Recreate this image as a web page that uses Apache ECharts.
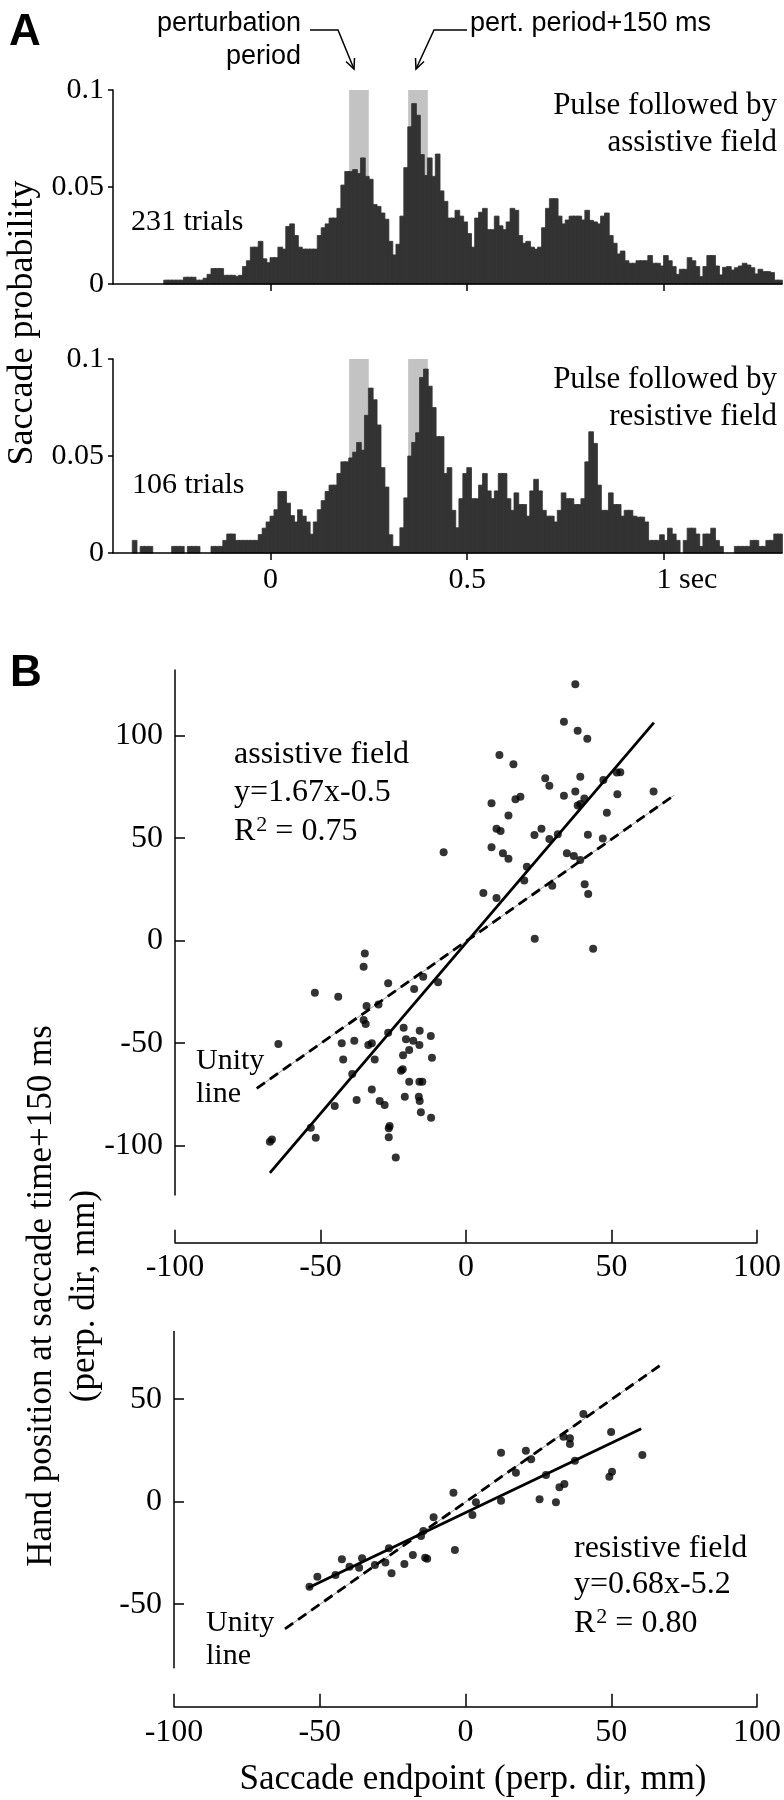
<!DOCTYPE html>
<html><head><meta charset="utf-8">
<script src="https://cdn.jsdelivr.net/npm/echarts@6/dist/echarts.min.js"></script>
<style>html,body{margin:0;padding:0;background:#fff}#c{width:784px;height:1800px}</style>
</head><body><div id="c"></div>
<script>
// ---------- Panel A: saccade probability histograms (10 ms bins from -0.4 s) ----------
const BIN_START = -0.4;
const BIN_WIDTH = 0.01;
const assistiveHist = [
  0,0,0,0,0,0,0,0,0,0,
  0,0,0,0.002,0.002,0.002,0.002,0.002,0.0035,0.0035,
  0.0035,0.002,0.002,0.003,0.005,0.008,0.008,0.008,0.0045,0.0045,
  0.0045,0.004,0.0045,0.009,0.012,0.019,0.019,0.022,0.013,0.011,
  0.0136,0.0136,0.019,0.018,0.0297,0.031,0.025,0.019,0.018,0.018,
  0.018,0.018,0.025,0.029,0.031,0.034,0.034,0.039,0.051,0.058,
  0.058,0.059,0.057,0.065,0.0555,0.054,0.041,0.040,0.0366,0.0334,
  0.022,0.015,0.0205,0.035,0.060,0.081,0.093,0.087,0.0667,0.056,
  0.065,0.0555,0.067,0.048,0.0426,0.034,0.034,0.038,0.035,0.032,
  0.026,0.019,0.034,0.037,0.039,0.028,0.028,0.035,0.030,0.028,
  0.032,0.039,0.038,0.025,0.021,0.022,0.019,0.018,0.019,0.029,
  0.039,0.044,0.044,0.035,0.031,0.033,0.035,0.035,0.035,0.033,
  0.038,0.0328,0.032,0.031,0.035,0.0366,0.025,0.021,0.0155,0.017,
  0.012,0.0107,0.0107,0.012,0.012,0.012,0.0147,0.0107,0.0107,0.0093,
  0.0147,0.012,0.009,0.005,0.0076,0.0076,0.0136,0.012,0.009,0.0038,
  0.009,0.0147,0.0147,0.0093,0.0047,0.0086,0.009,0.0072,0.0084,0.0093,
  0.0107,0.0098,0.0084,0.0052,0.0076,0.0064,0.0064,0.0059,0.002,0.002
];
const resistiveHist = [
  0,0,0,0,0,0.0065,0,0.0034,0.0034,0.0034,
  0,0,0,0,0,0.0034,0.0034,0.0034,0,0.0034,
  0.0034,0.0034,0,0,0,0.0034,0.0034,0.0034,0.0065,0.0098,
  0.0098,0.0065,0.0065,0.0065,0.0065,0.0065,0.0065,0.0095,0.0128,0.016,
  0.019,0.0223,0.0317,0.0317,0.0257,0.0193,0.016,0.0223,0.019,0.016,
  0.0097,0.016,0.0223,0.027,0.0317,0.035,0.035,0.041,0.047,0.047,
  0.049,0.052,0.057,0.053,0.071,0.085,0.079,0.066,0.044,0.034,
  0.0094,0.0034,0.0034,0.013,0.0284,0.050,0.057,0.062,0.0905,0.0948,
  0.086,0.075,0.060,0.060,0.041,0.044,0.022,0.013,0.028,0.041,
  0.044,0.028,0.028,0.035,0.041,0.032,0.028,0.032,0.041,0.041,
  0.028,0.022,0.031,0.025,0.025,0.019,0.032,0.038,0.032,0.022,
  0.019,0.019,0.016,0.022,0.031,0.028,0.028,0.025,0.025,0.028,
  0.047,0.0625,0.0565,0.035,0.022,0.022,0.031,0.025,0.025,0.019,
  0.022,0.022,0.019,0.0185,0.0185,0.016,0.0065,0.0065,0.0065,0.0094,
  0.0065,0.0128,0.0098,0.0065,0,0.0065,0.0128,0.0128,0.0098,0.0034,
  0.0098,0.0098,0.0128,0.0065,0.0034,0,0,0,0.0034,0.0034,
  0.0034,0.0034,0.0065,0.0065,0.0034,0.0034,0.0065,0.0065,0.0098,0.0098
];
const perturbWindows = [[0.2, 0.25], [0.35, 0.40]];
const histTimeTicks = [0, 0.5, 1];
const histProbTicks = [0, 0.05, 0.1];

// ---------- Panel B: scatter (saccade endpoint vs hand position) ----------
const assistX = [37.1,33.2,37.9,41.2,11.1,15.9,26.8,28.2,38.8,46.7,51.3,52.5,63.9,51.5,33.2,37.1,40.2,38.8,37.9,8.4,
  18.3,16.6,14.2,10.1,11.5,23.1,25.5,28.2,31.1,41.4,47.9,46.5,8.4,12.3,14.2,34.2,36.6,38.8,-8.0,20.5,
  19.6,29.2,40.3,41.5,5.6,10.1,23.2,43.2,-35.0,-35.4,-27.0,-15.0,-9.9,-52.1,-44.1,-18.1,-34.4,-30.3,-35.4,-34.7,
  -21.7,-16.2,-12.4,-27.0,-64.6,-42.9,-38.6,-33.8,-32.6,-20.9,-18.4,-16.3,-19.8,-21.9,-42.4,-31.6,-12.0,-39.3,-22.0,-22.6,
  -19.8,-16.3,-15.3,-32.6,-16.5,-21.3,-16.2,-29.9,-28.2,-37.8,-45.3,-15.8,-12.3,-26.5,-26.8,-26.8,-24.4,-53.5,-51.8,-67.5,-66.8];
const assistY = [125.1,106.8,102.4,98.5,90.6,86.0,79.2,75.5,80.0,78.4,82.0,82.1,72.7,71.4,70.7,72.7,69.3,66.7,65.9,67.0,
  70.2,69.0,61.0,54.6,53.5,51.6,54.6,49.6,51.9,51.7,62.4,49.8,45.6,42.6,40.0,42.6,41.3,39.3,43.1,36.1,
  29.3,26.8,27.5,22.8,23.3,20.8,1.0,-3.9,-6.2,-12.7,-20.8,-17.6,-20.3,-25.4,-27.3,-23.6,-31.9,-31.1,-38.7,-40.6,
  -42.4,-43.9,-46.5,-44.9,-50.4,-50.0,-48.8,-50.9,-50.0,-48.1,-48.8,-50.9,-53.3,-55.8,-57.9,-57.9,-57.1,-65.0,-62.7,-63.4,
  -68.8,-68.8,-68.8,-72.5,-76.1,-76.1,-78.2,-78.2,-80.1,-77.7,-80.6,-83.7,-86.3,-90.4,-91.5,-95.9,-105.7,-91.2,-96.1,-98.0,-96.9];
const resistX = [40.2,49.7,33.4,35.6,35.6,12.0,20.5,22.3,37.3,60.4,17.1,27.4,50.0,49.1,33.7,32.0,-4.3,12.0,25.2,30.8,
  3.4,2.2,-11.1,-14.6,-15.4,-3.8,-26.4,-18.2,-21.1,-14.0,-13.3,-27.6,-31.2,-35.6,-36.6,-39.9,-42.5,-44.7,-50.9,-25.5,-53.6];
const resistY = [42.8,34.0,31.7,31.0,28.1,23.9,24.9,20.7,20.0,22.8,14.1,13.0,14.6,12.2,8.6,7.0,4.4,0.5,1.2,-0.3,
  -0.3,-6.5,-7.6,-14.3,-16.7,-23.6,-22.7,-26.0,-30.4,-27.3,-27.8,-29.6,-30.9,-27.6,-32.2,-31.7,-28.1,-35.8,-36.6,-34.9,-41.5];
const assistFit = {slope: 1.67, intercept: -0.5, xRange: [-67.5, 64]};
const resistFit = {slope: 0.68, intercept: -5.2, xRange: [-54, 60]};
const assistUnityRange = [-72, 71];
const resistUnityRange = [-62, 66.3];
const assistYTicks = [-100, -50, 0, 50, 100];
const resistYTicks = [-50, 0, 50];

// ---------- build ----------
const SERIF = 'Liberation Serif';
const SANS = 'Liberation Sans';
const BAR_COLOR = '#333333';
const binData = arr => arr.map((v, i) => [Math.round((BIN_START + i * BIN_WIDTH) * 1000) / 1000, v]);
const zip = (xs, ys) => xs.map((x, i) => [x, ys[i]]);
const fitLine = f => f.xRange.map(x => [x, f.slope * x + f.intercept]);
const unityLine = r => r.map(x => [x, x]);

function barItem(params, api) {
  const t = api.value(0), v = api.value(1);
  if (!v) return null;
  const p0 = api.coord([t, v]);
  const p1 = api.coord([t + BIN_WIDTH, 0]);
  return {type: 'rect', shape: {x: p0[0] - 0.4, y: p0[1], width: p1[0] - p0[0] + 0.8, height: p1[1] - p0[1]},
    style: {fill: BAR_COLOR, stroke: BAR_COLOR, lineWidth: 0.8}};
}
function bandItem(params, api) {
  const p0 = api.coord([api.value(0), histProbTicks[2]]);
  const p1 = api.coord([api.value(1), 0]);
  return {type: 'rect', shape: {x: p0[0], y: p0[1], width: p1[0] - p0[0], height: p1[1] - p0[1]},
    style: {fill: '#c3c3c3'}};
}

const axLine = {show: true, onZero: false, lineStyle: {color: '#000', width: 1.5}};
function histX(idx, labels) {
  return {gridIndex: idx, type: 'value', min: -0.4, max: 1.3,
    axisLine: axLine,
    axisTick: {show: true, customValues: histTimeTicks, length: 7, lineStyle: {color: '#000', width: 1.5}},
    axisLabel: labels ? {show: true, customValues: histTimeTicks, fontFamily: SERIF, fontSize: 30, color: '#000', margin: 12,
      formatter: v => v === 1 ? '{pad|}1 sec' : String(v), rich: {pad: {width: 46}}} : {show: false},
    splitLine: {show: false}, z: 5};
}
function histY(idx) {
  return {gridIndex: idx, type: 'value', min: 0, max: 0.1, interval: 0.05,
    axisLine: axLine,
    axisTick: {show: true, length: 5, lineStyle: {color: '#000', width: 1.5}},
    axisLabel: {fontFamily: SERIF, fontSize: 30, color: '#000', margin: 9},
    splitLine: {show: false}, z: 5};
}
function scatterY(idx, min, max, ticks) {
  return {gridIndex: idx, type: 'value', min: min, max: max,
    axisLine: axLine,
    axisTick: {show: true, inside: true, length: 10, customValues: ticks, lineStyle: {color: '#000', width: 1.5}},
    axisLabel: {customValues: ticks, fontFamily: SERIF, fontSize: 32, color: '#000', margin: 12},
    splitLine: {show: false}};
}
function scatterXAxisOnly(idx, margin) {
  return {gridIndex: idx, type: 'value', min: -100, max: 100, interval: 50,
    axisLine: axLine,
    axisTick: {show: true, inside: true, length: 13, lineStyle: {color: '#000', width: 1.5}},
    axisLabel: {fontFamily: SERIF, fontSize: 32, color: '#000', margin: margin},
    splitLine: {show: false}};
}
const hiddenX = idx => ({gridIndex: idx, type: 'value', min: -100, max: 100, show: false});
const hiddenY = idx => ({gridIndex: idx, type: 'value', min: 0, max: 1, show: false});

function lineSeries(idx, data, style, z) {
  return {type: 'line', xAxisIndex: idx, yAxisIndex: idx, data: data, symbol: 'none', showSymbol: false,
    lineStyle: style, silent: true, z: z};
}

const txt = (text, x, y, opts) => Object.assign({type: 'text', x: x, y: y, silent: true,
  style: Object.assign({text: text, fill: '#000', font: '30px "' + SERIF + '"',
    align: 'left', verticalAlign: 'middle', textAlign: 'left', textVerticalAlign: 'middle'}, opts && opts.style || {})},
  opts && opts.rotation ? {rotation: opts.rotation} : {});
const serif = (size, align) => ({font: size + 'px "' + SERIF + '"', align: align, textAlign: align});
const rSquared = (val, x, y) => ({type: 'text', x: x, y: y, silent: true, style: {
  text: '{a|R}{s|2}{a| = ' + val + '}', align: 'left', textAlign: 'left', verticalAlign: 'middle', textVerticalAlign: 'middle',
  fill: '#000', rich: {a: {fontFamily: SERIF, fontSize: 32, fill: '#000'},
    s: {fontFamily: SERIF, fontSize: 22, fill: '#000', padding: [0, 0, 14, 1]}}}});

const option = {
  animation: false,
  backgroundColor: '#fff',
  grid: [
    {left: 113, top: 90, width: 669, height: 194},
    {left: 113, top: 359, width: 669, height: 194},
    {left: 175, top: 670, width: 584, height: 525},
    {left: 175, top: 1200, width: 584, height: 42.7},
    {left: 174, top: 1331.5, width: 584, height: 336.3},
    {left: 174, top: 1670, width: 584, height: 36.7}
  ],
  xAxis: [histX(0, false), histX(1, true), hiddenX(2), scatterXAxisOnly(3, 9), hiddenX(4), scatterXAxisOnly(5, 10)],
  yAxis: [histY(0), histY(1), scatterY(2, -124, 132, assistYTicks), hiddenY(3), scatterY(4, -81, 83, resistYTicks), hiddenY(5)],
  series: [
    {type: 'custom', xAxisIndex: 0, yAxisIndex: 0, data: perturbWindows, encode: {x: [0, 1]}, renderItem: bandItem, z: 1, silent: true},
    {type: 'custom', xAxisIndex: 0, yAxisIndex: 0, data: binData(assistiveHist), renderItem: barItem, z: 2, silent: true},
    {type: 'custom', xAxisIndex: 1, yAxisIndex: 1, data: perturbWindows, encode: {x: [0, 1]}, renderItem: bandItem, z: 1, silent: true},
    {type: 'custom', xAxisIndex: 1, yAxisIndex: 1, data: binData(resistiveHist), renderItem: barItem, z: 2, silent: true},

    lineSeries(2, unityLine(assistUnityRange), {color: '#9a9a9a', width: 1}, 2),
    lineSeries(2, unityLine(assistUnityRange), {color: '#000', width: 2.8, type: [10, 6]}, 3),
    lineSeries(2, fitLine(assistFit), {color: '#000', width: 2.8}, 3),
    {type: 'scatter', xAxisIndex: 2, yAxisIndex: 2, data: zip(assistX, assistY), symbolSize: 8, itemStyle: {color: '#000'}, z: 4, silent: true},

    lineSeries(4, unityLine(resistUnityRange), {color: '#9a9a9a', width: 1}, 2),
    lineSeries(4, unityLine(resistUnityRange), {color: '#000', width: 2.8, type: [10, 6]}, 3),
    lineSeries(4, fitLine(resistFit), {color: '#000', width: 2.8}, 3),
    {type: 'scatter', xAxisIndex: 4, yAxisIndex: 4, data: zip(resistX, resistY), symbolSize: 8, itemStyle: {color: '#000'}, z: 4, silent: true}
  ],
  graphic: [
    txt('A', 9, 33, {style: {font: 'bold 44px "' + SANS + '"'}}),
    txt('B', 10, 674, {style: {font: 'bold 44px "' + SANS + '"'}}),
    txt('perturbation', 301, 24, {style: {font: '27px "' + SANS + '"', align: 'right', textAlign: 'right'}}),
    txt('period', 301, 57, {style: {font: '27px "' + SANS + '"', align: 'right', textAlign: 'right'}}),
    txt('pert. period+150 ms', 470, 24, {style: {font: '27px "' + SANS + '"'}}),
    {type: 'polyline', silent: true, shape: {points: [[310, 30], [338, 30], [354, 69]]}, style: {stroke: '#000', lineWidth: 1.5, fill: null}},
    {type: 'polyline', silent: true, shape: {points: [[354.5, 58], [354, 69], [346, 61.5]]}, style: {stroke: '#000', lineWidth: 1.5, fill: null}},
    {type: 'polyline', silent: true, shape: {points: [[467, 30], [434, 30], [416, 69]]}, style: {stroke: '#000', lineWidth: 1.5, fill: null}},
    {type: 'polyline', silent: true, shape: {points: [[424, 61.5], [416, 69], [415.5, 58]]}, style: {stroke: '#000', lineWidth: 1.5, fill: null}},

    txt('Pulse followed by', 777, 106, {style: serif(31, 'right')}),
    txt('assistive field', 777, 143, {style: serif(31, 'right')}),
    txt('231 trials', 131, 222, {style: serif(30, 'left')}),
    txt('Pulse followed by', 777, 380, {style: serif(31, 'right')}),
    txt('resistive field', 777, 417, {style: serif(31, 'right')}),
    txt('106 trials', 132, 485, {style: serif(30, 'left')}),
    txt('Saccade probability', 23, 323, {rotation: Math.PI / 2, style: serif(36, 'center')}),

    txt('assistive field', 234, 755, {style: serif(32, 'left')}),
    txt('y=1.67x-0.5', 234, 793, {style: serif(32, 'left')}),
    rSquared('0.75', 234, 832),
    txt('Unity', 196, 1061, {style: serif(30, 'left')}),
    txt('line', 196, 1094, {style: serif(30, 'left')}),

    txt('resistive field', 574, 1549, {style: serif(32, 'left')}),
    txt('y=0.68x-5.2', 574, 1585, {style: serif(32, 'left')}),
    rSquared('0.80', 574, 1624),
    txt('Unity', 206, 1623, {style: serif(30, 'left')}),
    txt('line', 206, 1656, {style: serif(30, 'left')}),

    txt('Hand position at saccade time+150 ms', 42, 1296, {rotation: Math.PI / 2, style: serif(35, 'center')}),
    txt('(perp. dir, mm)', 85, 1296, {rotation: Math.PI / 2, style: serif(35, 'center')}),
    txt('Saccade endpoint (perp. dir, mm)', 473, 1780, {style: serif(35, 'center')})
  ]
};
const chart = echarts.init(document.getElementById('c'), null, {renderer: 'canvas'});
chart.setOption(option);
</script>
</body></html>
